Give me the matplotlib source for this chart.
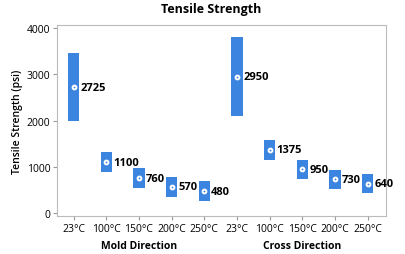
import matplotlib.pyplot as plt
import numpy as np

plt.rcParams['font.family'] = ['Open Sans', 'DejaVu Sans']

# data
temps = ['23°C', '100°C', '150°C', '200°C', '250°C']
groups = ['Mold Direction', 'Cross Direction']
mold_mean = [2725, 1100, 760, 570, 480]
mold_low = [2000, 886, 554, 359, 272]
mold_high = [3466, 1319, 973, 778, 692]
cross_mean = [2950, 1375, 950, 730, 640]
cross_low = [2097, 1159, 742, 519, 432]
cross_high = [3816, 1585, 1159, 936, 850]

blue = '#3b84e0'

fig = plt.figure(figsize=(4.06, 2.55), dpi=100)
ax = fig.add_axes([0.141, 0.148, 0.809, 0.750])

means = mold_mean + cross_mean
lows = mold_low + cross_low
highs = mold_high + cross_high
x = np.arange(len(means))

ax.bar(x, np.array(highs) - np.array(lows), bottom=lows, width=0.35,
       color=blue, edgecolor='none', zorder=2)
ax.scatter(x, means, s=10, facecolor='white', edgecolor='white', zorder=3)
ax.scatter(x, means, s=4, marker='+', color=blue, linewidths=0.5, zorder=4)

for xi, m in zip(x, means):
    ax.text(xi + 0.21, m, f'{m}', fontsize=8, fontweight='bold',
            va='center', ha='left', zorder=5)

ax.set_xlim(-0.5, 9.55)
ax.set_ylim(-65, 4065)
ax.set_yticks([0, 1000, 2000, 3000, 4000])
ax.set_xticks(x)
ax.set_xticklabels(temps + temps)
ax.tick_params(labelsize=7.5, length=3, color='#999999', pad=2)

for sp in ax.spines.values():
    sp.set_color('#bbbbbb')
    sp.set_linewidth(0.8)

ax.set_ylabel('Tensile Strength (psi)', fontsize=7.5, fontweight='semibold', labelpad=3)
fig.suptitle('Tensile Strength', fontsize=9, fontweight='bold', x=0.52, y=0.99)

for gi, g in enumerate(groups):
    ax.text(2 + gi * 5, -0.125, g, transform=ax.get_xaxis_transform(),
            ha='center', va='top', fontsize=7.5, fontweight='bold')

fig.savefig('out.png', dpi=100)
